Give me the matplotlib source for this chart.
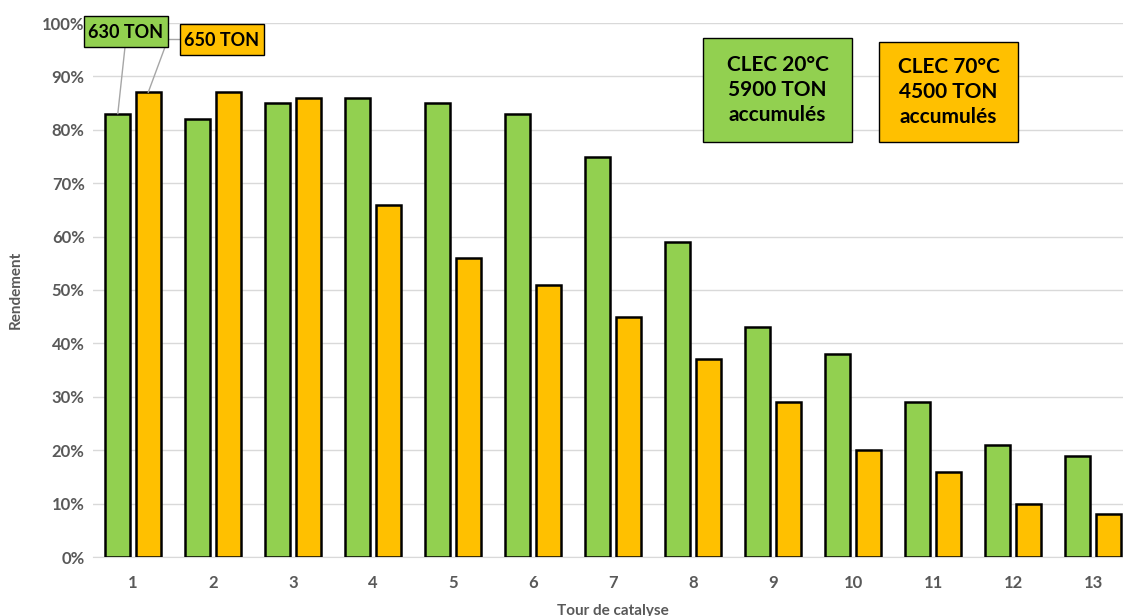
import matplotlib.pyplot as plt
from matplotlib.patches import Rectangle
import numpy as np

plt.rcParams['font.family'] = ['Lato', 'DejaVu Sans']

tours = [str(i) for i in range(1, 14)]
clec20 = [83, 82, 85, 86, 85, 83, 75, 59, 43, 38, 29, 21, 19]
clec70 = [87, 87, 86, 66, 56, 51, 45, 37, 29, 20, 16, 10, 8]
yticks = list(range(0, 101, 10))

green = '#92D050'
orange = '#FFC000'
grey = '#595959'

W, H = 1123, 616
fig = plt.figure(figsize=(W / 100, H / 100), dpi=100)
ax = fig.add_axes([93 / W, 59 / H, 1040 / W, 534 / H])

x = np.arange(len(tours))
w = 0.31
off = 0.19
ax.bar(x - off, clec20, w, color=green, edgecolor='black', linewidth=1.8, zorder=3)
ax.bar(x + off, clec70, w, color=orange, edgecolor='black', linewidth=1.8, zorder=3)

ax.set_xlim(-0.5, len(tours) - 0.5)
ax.set_ylim(0, 100)
ax.set_yticks(yticks)
ax.set_yticklabels([f'{v}%' for v in yticks], color=grey, fontsize=12, fontweight='bold')
ax.set_xticks(x)
ax.set_xticklabels(tours, color=grey, fontsize=12, fontweight='bold')
ax.tick_params(length=0, pad=13)
ax.tick_params(axis='y', pad=6)
ax.grid(axis='y', color='#D9D9D9', linewidth=1, zorder=0)
for s in ['top', 'right', 'left']:
    ax.spines[s].set_visible(False)
ax.spines['bottom'].set_color('#D9D9D9')

ax.set_ylabel('Rendement', color=grey, fontsize=11, fontweight='bold', labelpad=14)
ax.set_xlabel('Tour de catalyse', color=grey, fontsize=11, fontweight='bold', labelpad=9)


def fig_box(x0, y0, x1, y1, color):
    # box given in picture pixels from top-left
    fig.patches.append(Rectangle((x0 / W, 1 - y1 / H), (x1 - x0) / W, (y1 - y0) / H,
                                 transform=fig.transFigure, fc=color, ec='black', lw=1,
                                 zorder=4))


def pix(px, py):
    return (px / W, 1 - py / H)


# leader lines from first bars to their labels
lc = '#A6A6A6'
ax.annotate('', xy=(x[0] - off, clec20[0]), xytext=pix(125, 47), textcoords='figure fraction',
            arrowprops=dict(arrowstyle='-', color=lc, lw=1, shrinkA=0, shrinkB=0))
ax.annotate('', xy=(x[0] + off, clec70[0]), xytext=pix(168, 39), textcoords='figure fraction',
            arrowprops=dict(arrowstyle='-', color=lc, lw=1, shrinkA=0, shrinkB=0))
fig.lines.append(plt.Line2D([168 / W, 180 / W], [1 - 39 / H, 1 - 39 / H],
                            transform=fig.transFigure, color=lc, lw=1))

fig_box(84, 16, 168, 47, green)
fig.text(*pix(126, 32), '630 TON', ha='center', va='center', fontsize=13,
         fontweight='bold', zorder=5)
fig_box(180, 24, 264, 55, orange)
fig.text(*pix(222, 40), '650 TON', ha='center', va='center', fontsize=13,
         fontweight='bold', zorder=5)

fig_box(703, 38, 852, 142, green)
fig.text(*pix(777.5, 90), 'CLEC 20°C\n5900 TON\naccumulés', ha='center', va='center',
         fontsize=15, fontweight='bold', linespacing=1.3, zorder=5)
fig_box(879, 42, 1018, 142, orange)
fig.text(*pix(948.5, 92), 'CLEC 70°C\n4500 TON\naccumulés', ha='center', va='center',
         fontsize=15, fontweight='bold', linespacing=1.3, zorder=5)

fig.savefig('out.png', dpi=100)
